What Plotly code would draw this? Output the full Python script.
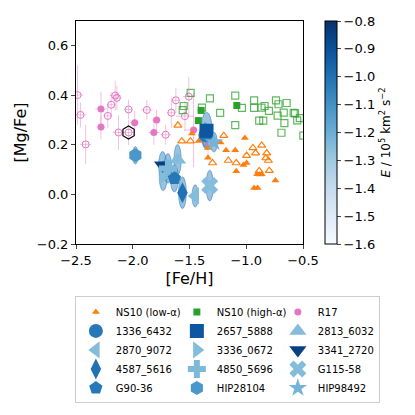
import numpy as np
import plotly.graph_objects as go
import plotly.express as px
from plotly.colors import sample_colorscale

# NS10 low-alpha (orange triangles)
low_fill_feh = [-1.478, -1.418, -1.337, -1.337, -1.226, -1.178, -1.097, -1.088, -1.012, -1.025,
                -0.997, -0.904, -0.864, -0.931, -0.900, -0.743, -0.880]
low_fill_mg = [0.246, 0.216, 0.187, 0.148, 0.210, 0.178, 0.178, 0.094, 0.228, 0.119,
               0.127, 0.082, 0.082, 0.026, 0.026, 0.056, 0.080]
low_open_feh = [-1.602, -1.568, -1.492, -1.297, -1.198, -1.158, -1.088, -0.997, -0.941, -0.918,
                -0.864, -0.819, -0.828, -0.805, -0.886, -0.797]
low_open_mg = [0.279, 0.215, 0.215, 0.127, 0.237, 0.137, 0.127, 0.157, 0.188, 0.167,
               0.198, 0.167, 0.147, 0.137, 0.095, 0.096]

# NS10 high-alpha (green squares)
high_fill_feh = [-1.422, -1.398, -1.083]
high_fill_mg = [0.298, 0.339, 0.359]
high_open_feh = [-1.551, -1.560, -1.490, -1.390, -1.320, -1.230, -1.097, -1.097, -1.038, -0.931,
                 -0.931, -0.866, -0.886, -0.850, -0.838, -0.800, -0.738, -0.724, -0.716, -0.690,
                 -0.670, -0.664, -0.644, -0.582, -0.570, -0.551, -0.528, -0.497]
high_open_mg = [0.357, 0.340, 0.410, 0.350, 0.388, 0.329, 0.399, 0.280, 0.349, 0.380,
                0.349, 0.350, 0.298, 0.298, 0.357, 0.337, 0.380, 0.318, 0.364, 0.249,
                0.330, 0.288, 0.369, 0.329, 0.327, 0.299, 0.308, 0.237]

# R17 (pink circles with error bars)
r17_open_feh = [-2.486, -2.460, -2.415, -2.220, -2.190, -2.155, -2.140, -2.125, -2.037, -2.037,
                -1.876, -1.710, -1.660, -1.620, -1.540, -1.506, -1.337]
r17_open_mg = [0.401, 0.321, 0.202, 0.317, 0.362, 0.399, 0.390, 0.250, 0.343, 0.250,
               0.341, 0.241, 0.330, 0.380, 0.316, 0.395, 0.211]
r17_open_xerr = [0.05, 0.05, 0.05, 0.04, 0.04, 0.05, 0.04, 0.05, 0.04, 0.05,
                 0.05, 0.05, 0.04, 0.04, 0.08, 0.05, 0.04]
r17_open_yerr = [0.12, 0.05, 0.08, 0.05, 0.05, 0.06, 0.05, 0.07, 0.04, 0.05,
                 0.04, 0.04, 0.06, 0.05, 0.06, 0.08, 0.05]
r17_fill_feh = [-2.280, -2.280, -1.983, -1.814, -1.790, -1.464]
r17_fill_mg = [0.345, 0.272, 0.289, 0.250, 0.300, 0.260]
r17_fill_xerr = [0.05, 0.04, 0.04, 0.05, 0.04, 0.08]
r17_fill_yerr = [0.07, 0.05, 0.05, 0.05, 0.04, 0.15]

# highlighted star (black open hexagon)
hl_feh = [-2.037]
hl_mg = [0.250]

# individual stars, coloured by orbital energy
star_names = ['1336_6432', '2657_5888', '2813_6032', '2870_9072', '3336_0672', '3341_2720',
              '4587_5616', '4850_5696', 'G115-58', 'G90-36', 'HIP28104', 'HIP98492']
star_symbols = ['circle', 'square', 'triangle-up', 'triangle-left', 'triangle-right', 'triangle-down',
                'diamond-tall', 'cross', 'x', 'pentagon', 'hexagon', 'star']
star_feh = [-1.36, -1.350, -1.605, -1.450, -1.732, -1.737, -1.562, -1.690, -1.322, -1.633, -1.977, -1.285]
star_mg = [0.24, 0.257, 0.140, -0.006, 0.075, 0.118, 0.007, 0.105, 0.036, 0.065, 0.158, 0.211]
star_e = [-1.02, -0.92, -1.25, -1.25, -1.25, -0.85, -1.00, -1.24, -1.25, -1.02, -1.12, -1.22]
star_sfeh = [0.03, 0.05, 0.032, 0.028, 0.035, 0.035, 0.034, 0.035, 0.032, 0.035, 0.025, 0.03]
star_smg = [0.05, 0.075, 0.062, 0.045, 0.06, 0.055, 0.064, 0.06, 0.062, 0.055, 0.035, 0.04]

blues = px.colors.sequential.Blues
e_min, e_max = -1.6, -0.8
orange = '#ff7f0e'
green = '#2ca02c'
pink = '#e377c2'
pink_err = 'rgba(227,119,194,0.45)'

fig = go.Figure()

# error ellipses behind the stars
for i in range(len(star_names)):
    fig.add_shape(type='circle', xref='x', yref='y', layer='below',
                  x0=star_feh[i] - star_sfeh[i], x1=star_feh[i] + star_sfeh[i],
                  y0=star_mg[i] - star_smg[i], y1=star_mg[i] + star_smg[i],
                  fillcolor='rgba(66,146,198,0.55)', line=dict(color='rgba(33,113,181,0.6)', width=0.8))

fig.add_trace(go.Scatter(x=r17_open_feh, y=r17_open_mg, mode='markers', showlegend=False,
                         marker=dict(symbol='circle-open', size=7, color=pink, line=dict(width=1)),
                         error_x=dict(array=r17_open_xerr, color=pink_err, thickness=1, width=0),
                         error_y=dict(array=r17_open_yerr, color=pink_err, thickness=1, width=0)))
fig.add_trace(go.Scatter(x=r17_fill_feh, y=r17_fill_mg, mode='markers', showlegend=False,
                         marker=dict(symbol='circle', size=7, color=pink),
                         error_x=dict(array=r17_fill_xerr, color=pink_err, thickness=1, width=0),
                         error_y=dict(array=r17_fill_yerr, color=pink_err, thickness=1, width=0)))

fig.add_trace(go.Scatter(x=low_open_feh, y=low_open_mg, mode='markers', showlegend=False,
                         marker=dict(symbol='triangle-up-open', size=7, color=orange, line=dict(width=1.2))))
fig.add_trace(go.Scatter(x=high_open_feh, y=high_open_mg, mode='markers', showlegend=False,
                         marker=dict(symbol='square-open', size=7, color='rgba(44,160,44,0.75)', line=dict(width=1.2))))
fig.add_trace(go.Scatter(x=low_fill_feh, y=low_fill_mg, mode='markers', name='NS10 (low-α)',
                         marker=dict(symbol='triangle-up', size=7, color=orange)))
fig.add_trace(go.Scatter(x=high_fill_feh, y=high_fill_mg, mode='markers', name='NS10 (high-α)',
                         marker=dict(symbol='square', size=7, color=green)))
fig.add_trace(go.Scatter(x=[None], y=[None], mode='markers', name='R17',
                         marker=dict(symbol='circle', size=7, color=pink)))
fig.add_trace(go.Scatter(x=hl_feh, y=hl_mg, mode='markers', showlegend=False,
                         marker=dict(symbol='hexagon-open', size=13, color='black', line=dict(width=1.2))))

star_colors = sample_colorscale(blues, [(e - e_min) / (e_max - e_min) for e in star_e])
sizes = [14, 14, 15, 15, 15, 15, 15, 15, 15, 14, 14, 14]
for i, name in enumerate(star_names):
    fig.add_trace(go.Scatter(x=[star_feh[i]], y=[star_mg[i]], mode='markers', name=name,
                             marker=dict(symbol=star_symbols[i], size=sizes[i], color=star_colors[i],
                                         line=dict(width=0))))

# colour bar holder
fig.add_trace(go.Scatter(x=[None], y=[None], mode='markers', showlegend=False, hoverinfo='skip',
                         marker=dict(color=[e_min], colorscale=blues, cmin=e_min, cmax=e_max, showscale=True,
                                     colorbar=dict(x=1.052, xanchor='left', y=0.5, yanchor='middle',
                                                   len=1.0, ypad=0,
                                                   thickness=12, outlinewidth=1, outlinecolor='black',
                                                   tickvals=[-1.6, -1.5, -1.4, -1.3, -1.2, -1.1, -1.0, -0.9, -0.8],
                                                   tickformat='.1f', ticks='outside', ticklen=4,
                                                   tickfont=dict(size=13),
                                                   title=dict(text='<i>E</i> / 10<sup>5</sup> km<sup>2</sup> s<sup>−2</sup>',
                                                              side='right', font=dict(size=12))))))

fig.update_layout(
    width=415, height=415,
    margin=dict(l=76, r=103, t=21, b=162),
    plot_bgcolor='white', paper_bgcolor='white',
    font=dict(family='DejaVu Sans', size=13, color='black'),
    legend=dict(orientation='h', x=-0.005, xanchor='left', y=-0.235, yanchor='top',
                entrywidth=56, bordercolor='#cccccc', borderwidth=1,
                font=dict(size=10), tracegroupgap=0, itemsizing='trace'),
)
fig.update_xaxes(range=[-2.5, -0.5], tickvals=[-2.5, -2.0, -1.5, -1.0, -0.5], tickformat='.1f',
                 showline=True, linecolor='black', linewidth=1, mirror=True, ticks='outside', ticklen=4,
                 showgrid=False, zeroline=False, title=dict(text='[Fe/H]', standoff=6))
fig.update_yaxes(range=[-0.2, 0.7], tickvals=[-0.2, 0.0, 0.2, 0.4, 0.6], tickformat='.1f',
                 showline=True, linecolor='black', linewidth=1, mirror=True, ticks='outside', ticklen=4,
                 showgrid=False, zeroline=False, title=dict(text='[Mg/Fe]', standoff=6))

# drop the default page margin so the figure sits at the window corner
fig.write_html("out.html", config={'displayModeBar': False},
               post_script="document.body.style.margin='0';")
